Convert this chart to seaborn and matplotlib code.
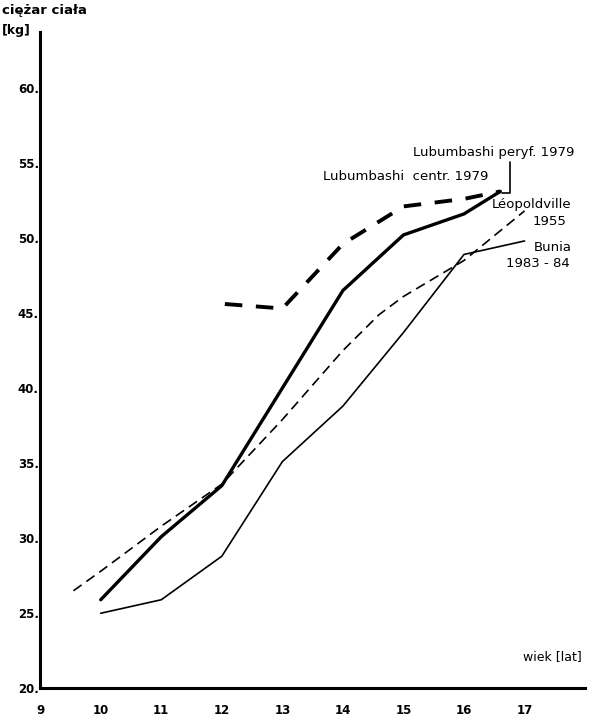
import matplotlib
matplotlib.use("Agg")
import matplotlib.pyplot as plt
import numpy as np
import pandas as pd
import seaborn as sns

# ages (years) and body weight (kg)
centr_age = [10, 11, 12, 13, 14, 15, 16, 16.6]
centr_kg = [25.9, 30.1, 33.5, 40.0, 46.5, 50.2, 51.6, 53.1]

peryf_age = [12.05, 13, 14, 15, 16, 16.6]
peryf_kg = [45.6, 45.3, 49.6, 52.1, 52.6, 53.1]

leop_age = [9.55, 10, 11, 12, 13, 14, 14.6, 15, 16, 17]
leop_kg = [26.5, 27.8, 30.8, 33.6, 37.9, 42.5, 44.9, 46.1, 48.5, 51.8]

bunia_age = [10, 11, 12, 13, 14, 15, 16, 17]
bunia_kg = [25.0, 25.9, 28.8, 35.1, 38.8, 43.7, 48.9, 49.8]

xticks = [9, 10, 11, 12, 13, 14, 15, 16, 17]
yticks = [20, 25, 30, 35, 40, 45, 50, 55, 60]

sns.set_style("white")
plt.rcParams['font.family'] = ['DejaVu Sans']
plt.rcParams['text.color'] = 'black'

fig = plt.figure(figsize=(5.91, 7.17), dpi=100)
ax = fig.add_axes([0.068, 0.040, 0.922, 0.915])

sns.lineplot(x=centr_age, y=centr_kg, ax=ax, color='black', lw=2.4, linestyle='-')
sns.lineplot(x=peryf_age, y=peryf_kg, ax=ax, color='black', lw=2.8, linestyle=(0, (4.5, 3.5)))
sns.lineplot(x=leop_age, y=leop_kg, ax=ax, color='black', lw=1.2, linestyle=(0, (6, 3.5)))
sns.lineplot(x=bunia_age, y=bunia_kg, ax=ax, color='black', lw=1.2, linestyle='-')

ax.set_xlim(9, 18)
ax.set_ylim(20, 63.7)
ax.set_xticks(xticks)
ax.set_yticks(yticks)
ax.set_xticklabels([str(t) for t in xticks], fontsize=8.5, fontweight='bold', color='black')
ax.set_yticklabels([f"{t}." for t in yticks], fontsize=8.5, fontweight='bold', color='black')
ax.tick_params(axis='x', direction='in', length=3, width=1, pad=11)
ax.tick_params(axis='y', direction='in', length=0, pad=1)

for side in ['top', 'right']:
    ax.spines[side].set_visible(False)
for side in ['left', 'bottom']:
    ax.spines[side].set_linewidth(2.2)
    ax.spines[side].set_color('black')

# axis titles
fig.text(0.003, 0.986, "ciężar ciała", fontsize=9.5, fontweight='bold', va='center')
fig.text(0.003, 0.958, "[kg]", fontsize=9, fontweight='bold', va='center')
ax.text(17.95, 22.1, "wiek [lat]", fontsize=9, ha='right', va='center')

# series labels
ax.text(17.83, 55.67, "Lubumbashi peryf. 1979", fontsize=9.5, ha='right', va='center')
ax.text(13.67, 54.07, "Lubumbashi  centr. 1979", fontsize=9.5, ha='left', va='center')
ax.plot([16.76, 16.76, 16.62], [55.07, 53.0, 53.0], color='black', lw=1.2)
ax.text(17.78, 52.2, "Léopoldville", fontsize=9.5, ha='right', va='center')
ax.text(17.7, 51.07, "1955", fontsize=9.5, ha='right', va='center')
ax.text(17.78, 49.33, "Bunia", fontsize=9.5, ha='right', va='center')
ax.text(17.75, 48.27, "1983 - 84", fontsize=9.5, ha='right', va='center')

fig.savefig("out.png", dpi=100)
